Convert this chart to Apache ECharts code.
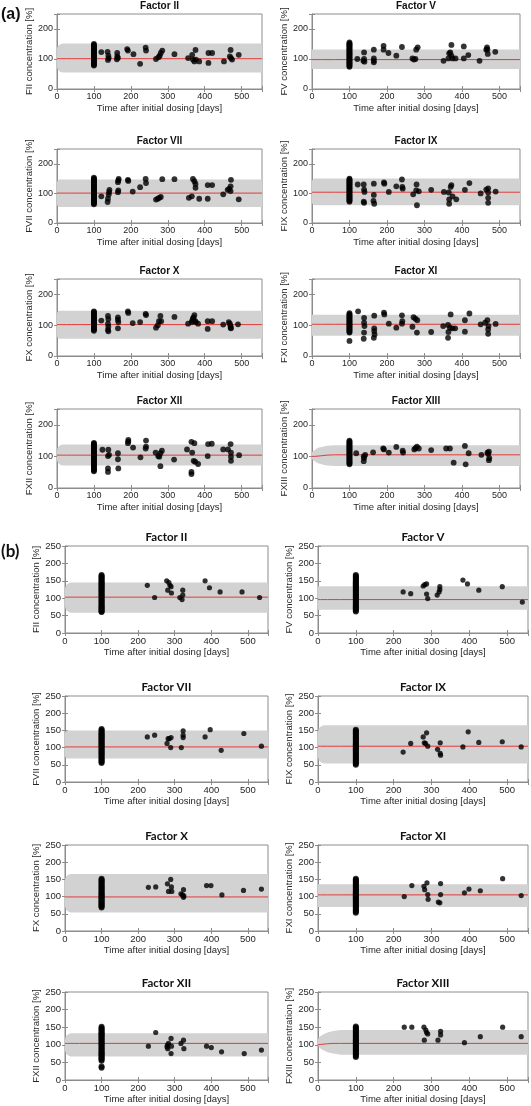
<!DOCTYPE html>
<html><head><meta charset="utf-8">
<script src="https://cdn.jsdelivr.net/npm/echarts@6/dist/echarts.min.js"></script>
<style>html,body{margin:0;padding:0;background:#fff}#c{width:531px;height:1106px}</style>
</head><body><div id="c"></div>
<script>
// ---------- shared labels / ticks ----------
const FACTOR_TITLES = ['Factor II','Factor V','Factor VII','Factor IX','Factor X','Factor XI','Factor XII','Factor XIII'];
const Y_NAMES = ['FII concentration [%]','FV concentration [%]','FVII concentration [%]','FIX concentration [%]',
                 'FX concentration [%]','FXI concentration [%]','FXII concentration [%]','FXIII concentration [%]'];
const X_NAME = 'Time after initial dosing [days]';
const X_TICKS = [0,100,200,300,400,500];
const Y_TICKS_A = [0,100,200];
const Y_TICKS_B = [0,50,100,150,200,250];
const COL_DAY = 100;
// time grid of the reference-interval band (days)
const BAND_T = [0,1,3,6,10,16,25,40,60,555];

// ---------- (a) ----------
const a_II_col = [78,81,84,87,90,93,96,99,102,105,108,111,114,117,120,123,126,129,132,135,138,141,144,147,150];
const a_II_pts = [[120,123],[137,124],[139,111],[138,97],[140,103],[163,120],[163,109],[162,99],[165,104],[190,133],[192,128],[207,116],[225,84],[240,138],[241,128],[268,100],[275,106],[278,111],[281,120],[285,128],[318,116],[355,103],[366,114],[368,98],[372,92],[376,98],[375,130],[385,92],[410,120],[420,120],[410,87],[452,92],[468,109],[470,130],[471,103],[474,98],[492,114]];
const a_II_lo = [75,68,64,60,57,55,55,55,55,55];
const a_II_hi = [132,139,143,147,150,152,152,152,152,152];
const a_II_ref = [101,101,101,101,101,101,101,101,101,101];

const a_V_col = [74,77,80,83,86,89,92,95,98,101,104,107,110,113,116,119,122,125,128,131,134,137,140,143,146,149,152,155];
const a_V_pts = [[121,100],[139,122],[139,100],[140,91],[137,94],[165,131],[165,102],[165,94],[165,89],[191,144],[191,131],[204,120],[225,111],[240,140],[268,102],[272,98],[276,100],[278,131],[282,139],[351,94],[364,102],[366,119],[369,122],[372,147],[372,111],[375,102],[383,102],[405,102],[405,142],[417,113],[447,94],[465,131],[467,139],[469,117],[468,132],[489,124]];
const a_V_lo = [67,67,67,67,67,67,67,67,67,67];
const a_V_hi = [132,132,132,132,132,132,132,132,132,132];
const a_V_ref = [98,98,98,98,98,98,98,98,98,98];

const a_VII_col = [63,66,69,72,75,78,81,84,87,90,93,96,99,102,105,108,111,114,117,120,123,126,129,132,135,138,141,144,147,150,153];
const a_VII_pts = [[120,90],[137,71],[138,82],[140,96],[141,104],[142,112],[165,104],[166,110],[165,138],[166,144],[167,149],[192,146],[193,142],[205,106],[225,121],[240,149],[241,135],[268,79],[273,82],[277,85],[281,88],[285,148],[318,148],[357,85],[365,90],[368,149],[372,141],[375,132],[375,119],[385,82],[408,128],[420,128],[408,82],[450,97],[462,112],[466,115],[470,124],[471,146],[470,108],[492,80]];
const a_VII_lo = [64,59,56,54,54,54,54,54,54,54];
const a_VII_hi = [137,142,145,147,147,147,147,147,147,147];
const a_VII_ref = [101,101,101,101,101,101,101,101,101,101];

const a_IX_col = [72,75,78,81,84,87,90,93,96,99,102,105,108,111,114,117,120,123,126,129,132,135,138,141,144,147,150];
const a_IX_pts = [[122,130],[138,130],[139,113],[140,105],[138,72],[139,68],[165,133],[165,95],[164,75],[166,65],[192,137],[193,133],[205,105],[225,124],[240,147],[241,122],[242,116],[270,97],[278,110],[279,130],[280,60],[285,107],[318,112],[352,105],[365,103],[366,80],[366,65],[370,122],[372,128],[375,90],[385,80],[408,112],[420,135],[450,100],[465,113],[470,117],[470,103],[470,85],[470,68],[490,106]];
const a_IX_lo = [70,65,62,60,60,60,60,60,60,60];
const a_IX_hi = [140,145,148,150,150,150,150,150,150,150];
const a_IX_ref = [104,104,104,104,104,104,104,104,104,104];

const a_X_col = [82,85,88,91,94,97,100,103,106,109,112,115,118,121,124,127,130,133,136,139,142,145];
const a_X_pts = [[120,115],[138,130],[139,120],[138,105],[139,95],[138,85],[139,80],[165,125],[165,118],[166,110],[165,90],[192,145],[193,140],[205,107],[225,110],[240,137],[241,133],[268,92],[273,100],[276,113],[280,130],[282,113],[318,127],[355,105],[365,110],[366,115],[368,122],[370,125],[372,133],[374,113],[376,110],[382,105],[408,113],[408,88],[420,113],[450,102],[465,110],[468,105],[470,98],[470,92],[471,90],[490,103]];
const a_X_lo = [66,61,58,56,56,56,56,56,56,56];
const a_X_hi = [137,142,145,147,147,147,147,147,147,147];
const a_X_ref = [102,102,102,102,102,102,102,102,102,102];

const a_XI_col = [49,76,79,82,85,88,91,94,97,100,103,106,109,112,115,118,121,124,127,130,133,136,139];
const a_XI_pts = [[123,145],[139,124],[139,108],[140,97],[139,76],[138,56],[166,131],[166,90],[166,81],[167,70],[165,59],[192,141],[193,135],[205,105],[225,92],[240,132],[241,113],[240,105],[268,95],[271,126],[276,121],[281,116],[280,76],[318,78],[350,97],[363,101],[364,78],[363,59],[368,92],[370,135],[375,90],[382,90],[408,116],[408,79],[420,138],[450,103],[462,108],[468,116],[470,86],[470,72],[471,97],[490,104]];
const a_XI_lo = [66,66,66,66,66,66,66,66,66,66];
const a_XI_hi = [134,134,134,134,134,134,134,134,134,134];
const a_XI_ref = [103,103,103,103,103,103,103,103,103,103];

const a_XII_col = [53,56,59,62,65,68,71,74,77,80,83,86,89,92,95,98,101,104,107,110,113,116,119,122,125,128,131,134,137,140,143];
const a_XII_pts = [[123,121],[139,121],[141,105],[138,101],[138,62],[138,51],[165,110],[165,91],[166,62],[193,147],[192,142],[193,152],[206,128],[226,97],[241,150],[241,131],[240,125],[267,112],[274,101],[277,99],[280,110],[284,118],[280,69],[317,90],[352,122],[364,146],[372,142],[366,112],[364,51],[364,44],[370,86],[374,83],[382,76],[408,101],[409,139],[419,140],[450,122],[463,122],[470,139],[471,112],[471,86],[471,99],[493,104]];
const a_XII_lo = [91,84,80,76,73,71,71,71,71,71];
const a_XII_hi = [118,125,129,133,136,138,138,138,138,138];
const a_XII_ref = [104,104,104,104,104,104,104,104,104,104];

const a_XIII_col = [75,78,81,84,87,90,93,96,99,102,105,108,111,114,117,120,123,126,129,132,135,138,141,144,147,150];
const a_XIII_pts = [[118,110],[138,100],[139,95],[138,85],[142,105],[163,113],[190,125],[192,122],[205,112],[225,130],[242,118],[243,112],[273,122],[276,126],[280,131],[285,125],[318,120],[358,125],[368,125],[378,80],[408,133],[410,75],[418,110],[452,105],[468,112],[470,108],[472,115],[473,95],[472,88]];
const a_XIII_lo = [92,91,88,86,82,78,75,71,70,70];
const a_XIII_hi = [113,114,117,119,123,127,130,134,135,135];
const a_XIII_ref = [100,100,100,100,101,101,102,104,105,105];

// ---------- (b) ----------
const b_II_col = [60,62,65,68,71,74,77,80,83,86,89,92,95,98,101,104,107,110,113,116,119,122,125,128,131,134,137,140,143,146,149,152,155,158,161,164,167];
const b_II_pts = [[225,137],[245,102],[278,150],[281,123],[284,145],[287,137],[290,133],[291,115],[314,102],[320,96],[322,123],[322,109],[383,150],[395,130],[424,118],[484,118],[532,102]];
const b_II_lo = [78,71,67,63,60,58,58,58,58,58];
const b_II_hi = [125,132,136,140,143,145,145,145,145,145];
const b_II_ref = [103,103,103,103,103,103,103,103,103,103];

const b_V_col = [62,65,68,71,74,77,80,83,86,89,92,95,98,101,104,107,110,113,116,119,122,125,128,131,134,137,140,143,146,149,152,155,158,161,164,167];
const b_V_pts = [[225,118],[245,113],[278,135],[282,139],[287,141],[287,112],[290,99],[315,109],[320,118],[322,125],[322,133],[383,152],[395,141],[425,123],[487,133],[540,89]];
const b_V_lo = [67,67,67,67,67,67,67,67,67,67];
const b_V_hi = [134,134,134,134,134,134,134,134,134,134];
const b_V_ref = [96,96,96,96,96,96,96,96,96,96];

const b_VII_col = [55,58,61,64,67,70,73,76,79,82,85,88,91,94,97,100,103,106,109,112,115,118,121,124,127,130,133,136,139,142,145,148,151,154];
const b_VII_pts = [[225,131],[245,136],[279,112],[282,126],[285,126],[290,129],[289,100],[318,100],[323,149],[323,136],[323,129],[383,131],[397,152],[427,92],[489,141],[537,104]];
const b_VII_lo = [78,73,70,68,68,68,68,68,68,68];
const b_VII_hi = [140,145,148,150,150,150,150,150,150,150];
const b_VII_ref = [102,102,102,102,102,102,102,102,102,102];

const b_IX_col = [50,53,56,59,62,65,68,71,74,77,80,83,86,89,92,95,98,101,104,107,110,113,116,119,122,125,128,131,134,137,140,143,146,149,152];
const b_IX_pts = [[225,87],[245,112],[278,131],[281,114],[284,112],[287,143],[290,104],[316,95],[323,114],[323,83],[324,78],[383,102],[397,146],[425,115],[487,117],[537,102]];
const b_IX_lo = [74,67,63,59,56,54,54,54,54,54];
const b_IX_hi = [145,152,156,160,163,165,165,165,165,165];
const b_IX_ref = [104,104,104,104,104,104,104,104,104,104];

const b_X_col = [68,71,74,77,80,83,86,89,92,95,98,101,104,107,110,113,116,119,122,125,128,131,134,137,140,143,146,149,152];
const b_X_pts = [[228,127],[248,128],[280,137],[283,115],[289,150],[291,128],[292,115],[317,108],[321,105],[324,98],[324,120],[325,102],[387,132],[399,132],[429,105],[488,118],[537,122]];
const b_X_lo = [74,67,63,59,56,54,54,54,54,54];
const b_X_hi = [146,153,157,161,164,166,166,166,166,166];
const b_X_ref = [99,99,99,99,99,99,99,99,99,99];

const b_XI_col = [53,56,59,62,65,68,71,74,77,80,83,86,89,92,95,98,101,104,107,110,113,116,119,122,125,128,131,134,137,140,143,146,149,152];
const b_XI_pts = [[228,100],[248,132],[280,130],[282,120],[288,140],[290,106],[291,92],[318,84],[322,82],[324,106],[324,138],[387,111],[399,122],[429,117],[488,152],[537,103]];
const b_XI_lo = [70,70,70,70,70,70,70,70,70,70];
const b_XI_hi = [136,136,136,136,136,136,136,136,136,136];
const b_XI_ref = [105,105,105,105,105,105,105,105,105,105];

const b_XII_col = [35,38,55,58,61,64,67,70,73,76,79,82,85,88,91,94,97,100,103,106,109,112,115,118,121,124,127,130,133,136,139,142,145,148,151];
const b_XII_pts = [[228,96],[248,135],[280,99],[281,89],[283,104],[279,94],[290,118],[290,75],[291,96],[317,104],[324,113],[325,89],[387,96],[400,92],[428,80],[490,75],[537,85]];
const b_XII_lo = [87,80,76,72,69,67,67,67,67,67];
const b_XII_hi = [113,120,124,128,131,133,133,133,133,133];
const b_XII_ref = [104,104,104,104,104,104,104,104,104,104];

const b_XIII_col = [65,68,71,74,77,80,83,86,89,92,95,98,101,104,107,110,113,116,119,122,125,128,131,134,137,140,143,146,149,152];
const b_XIII_pts = [[228,150],[248,150],[280,150],[285,142],[287,135],[290,131],[281,113],[317,113],[324,138],[324,128],[387,106],[429,123],[488,150],[537,123]];
const b_XIII_lo = [97,96,93,90,87,84,79,75,72,72];
const b_XIII_hi = [117,118,121,124,127,131,135,139,142,142];
const b_XIII_ref = [100,100,101,101,102,102,103,104,104,104];

// ---------- panel lists ----------
const PANELS_A = [
  [a_II_col,a_II_pts,a_II_lo,a_II_hi,a_II_ref],[a_V_col,a_V_pts,a_V_lo,a_V_hi,a_V_ref],
  [a_VII_col,a_VII_pts,a_VII_lo,a_VII_hi,a_VII_ref],[a_IX_col,a_IX_pts,a_IX_lo,a_IX_hi,a_IX_ref],
  [a_X_col,a_X_pts,a_X_lo,a_X_hi,a_X_ref],[a_XI_col,a_XI_pts,a_XI_lo,a_XI_hi,a_XI_ref],
  [a_XII_col,a_XII_pts,a_XII_lo,a_XII_hi,a_XII_ref],[a_XIII_col,a_XIII_pts,a_XIII_lo,a_XIII_hi,a_XIII_ref]
];
const PANELS_B = [
  [b_II_col,b_II_pts,b_II_lo,b_II_hi,b_II_ref],[b_V_col,b_V_pts,b_V_lo,b_V_hi,b_V_ref],
  [b_VII_col,b_VII_pts,b_VII_lo,b_VII_hi,b_VII_ref],[b_IX_col,b_IX_pts,b_IX_lo,b_IX_hi,b_IX_ref],
  [b_X_col,b_X_pts,b_X_lo,b_X_hi,b_X_ref],[b_XI_col,b_XI_pts,b_XI_lo,b_XI_hi,b_XI_ref],
  [b_XII_col,b_XII_pts,b_XII_lo,b_XII_hi,b_XII_ref],[b_XIII_col,b_XIII_pts,b_XIII_lo,b_XIII_hi,b_XIII_ref]
];

// ---------- layout (pixels) ----------
const ROWS_A = [[14,89],[149,223],[279,356],[409,488]];
const COLS_A = [[57,262],[312,520]];
const ROWS_B = [[546,633],[696,782],[845,931],[992,1080]];
const COLS_B = [[65,268],[318,528]];

const CFG_A = {rows:ROWS_A, cols:COLS_A, yInterval:100, yTicks:Y_TICKS_A, fs:9, nameFs:9.5, sym:5.8, colSym:5.8,
  titleFont:'bold 10px "Liberation Sans", Arial, sans-serif', titleGap:8, xNameGap:14, yNameGap:20.5, labelMargin:3.5};
const CFG_B = {rows:ROWS_B, cols:COLS_B, yInterval:50, yTicks:Y_TICKS_B, fs:9.5, nameFs:9.5, sym:5.2, colSym:6,
  titleFont:'bold 11.5px Lato, "Liberation Sans", sans-serif', titleGap:9, xNameGap:13.5, yNameGap:21, labelMargin:3.5};

const GRAY = '#8c8c8c', TXT = '#262626', FONT = '"Liberation Sans", Arial, sans-serif';
const option = {animation:false, backgroundColor:'#fff', grid:[], xAxis:[], yAxis:[], series:[], graphic:[]};

function addGroup(panels, cfg) {
  panels.forEach((p, i) => {
    const [col, pts, lo, hi, ref] = p;
    const r = cfg.rows[Math.floor(i/2)], c = cfg.cols[i%2];
    const gi = option.grid.length;
    option.grid.push({left:c[0], top:r[0], width:c[1]-c[0], height:r[1]-r[0], show:true,
      borderColor:GRAY, borderWidth:1, backgroundColor:'#fff'});
    const xi = option.xAxis.length, yi = option.yAxis.length;
    const tickStyle = {inside:true, length:3, lineStyle:{color:GRAY}};
    option.xAxis.push({gridIndex:gi, type:'value', min:0, max:555, interval:X_TICKS[1]-X_TICKS[0],
      axisLine:{show:true, lineStyle:{color:GRAY}}, axisTick:tickStyle, splitLine:{show:false},
      axisLabel:{margin:cfg.labelMargin, fontSize:cfg.fs, color:TXT, fontFamily:FONT,
        formatter:v => X_TICKS.includes(v) ? String(v) : ''},
      name:X_NAME, nameLocation:'middle', nameGap:cfg.xNameGap,
      nameTextStyle:{fontSize:cfg.nameFs, color:TXT, fontFamily:FONT}});
    option.xAxis.push({gridIndex:gi, type:'value', position:'top', min:0, max:555, interval:X_TICKS[1]-X_TICKS[0],
      axisLine:{show:false}, axisTick:tickStyle, axisLabel:{show:false}, splitLine:{show:false}});
    option.yAxis.push({gridIndex:gi, type:'value', min:0, max:250, interval:cfg.yInterval,
      axisLine:{show:true, lineStyle:{color:GRAY}}, axisTick:tickStyle, splitLine:{show:false},
      axisLabel:{margin:4, fontSize:cfg.fs, color:TXT, fontFamily:FONT,
        formatter:v => cfg.yTicks.includes(v) ? String(v) : ''},
      name:Y_NAMES[i], nameLocation:'middle', nameGap:cfg.yNameGap,
      nameTextStyle:{fontSize:cfg.nameFs, color:TXT, fontFamily:FONT}});
    option.yAxis.push({gridIndex:gi, type:'value', position:'right', min:0, max:250, interval:cfg.yInterval,
      axisLine:{show:false}, axisTick:tickStyle, axisLabel:{show:false}, splitLine:{show:false}});

    // reference band
    option.series.push({type:'custom', xAxisIndex:xi, yAxisIndex:yi, silent:true, z:1,
      data:[[BAND_T[0], lo[0]]],
      renderItem:(params, api) => {
        const poly = [];
        for (let k = 0; k < BAND_T.length; k++) poly.push(api.coord([BAND_T[k], hi[k]]));
        for (let k = BAND_T.length-1; k >= 0; k--) poly.push(api.coord([BAND_T[k], lo[k]]));
        return {type:'polygon', shape:{points:poly}, style:{fill:'#d2d2d2', stroke:null}};
      }});
    // median line
    option.series.push({type:'line', xAxisIndex:xi, yAxisIndex:yi, silent:true, z:2, symbol:'none',
      data:BAND_T.map((t,k) => [t, ref[k]]), lineStyle:{color:'#e23b3b', width:1}});
    // observations at day 100
    option.series.push({type:'scatter', xAxisIndex:xi, yAxisIndex:yi, silent:true, z:3, symbolSize:cfg.colSym,
      data:col.map(v => [COL_DAY, v]), itemStyle:{color:'#000'}});
    // follow-up observations
    option.series.push({type:'scatter', xAxisIndex:xi, yAxisIndex:yi, silent:true, z:3, symbolSize:cfg.sym,
      data:pts, itemStyle:{color:'#000'}});
    // title
    option.graphic.push({type:'text', x:(c[0]+c[1])/2, y:r[0]-cfg.titleGap, silent:true,
      style:{text:FACTOR_TITLES[i], font:cfg.titleFont, fill:'#111', textAlign:'center', textVerticalAlign:'middle'}});
  });
}
addGroup(PANELS_A, CFG_A);
addGroup(PANELS_B, CFG_B);
option.graphic.push({type:'text', x:1, y:15, style:{text:'(a)', font:'bold 16px "Liberation Sans", Arial, sans-serif', fill:'#111', textVerticalAlign:'middle'}});
option.graphic.push({type:'text', x:1, y:552, style:{text:'(b)', font:'bold 17px Lato, "Liberation Sans", sans-serif', fill:'#111', textVerticalAlign:'middle'}});

const chart = echarts.init(document.getElementById('c'), null, {renderer:'canvas'});
chart.setOption(option);
</script></body></html>
